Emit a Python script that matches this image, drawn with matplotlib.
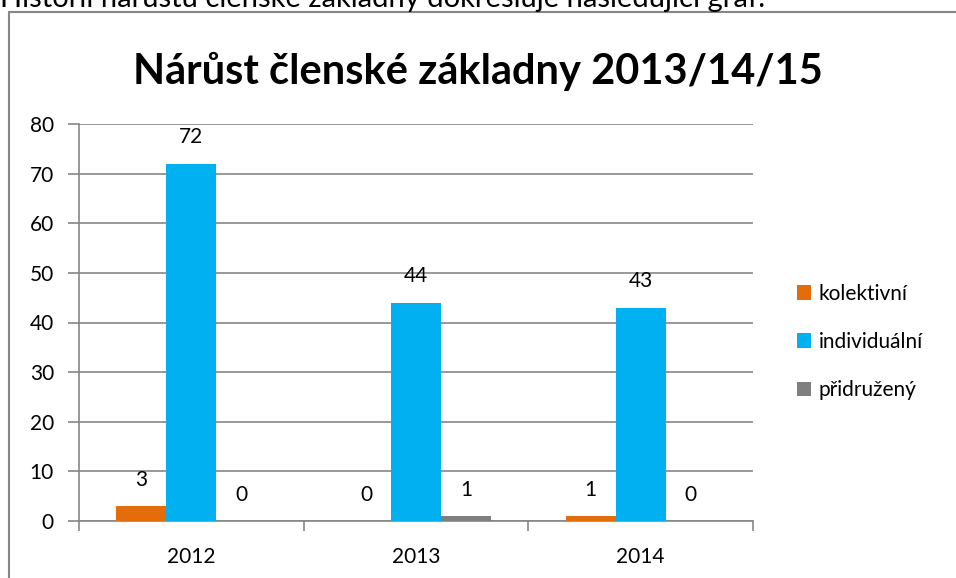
import matplotlib
matplotlib.use("Agg")
import matplotlib.pyplot as plt
from matplotlib.patches import Rectangle
import numpy as np

plt.rcParams['font.family'] = ['Lato', 'DejaVu Sans']

categories = ["2012", "2013", "2014"]
series_names = ["kolektivní", "individuální", "přidružený"]
kolektivni = [3, 0, 1]
individualni = [72, 44, 43]
pridruzeny = [0, 1, 0]
colors = ["#E46C0A", "#00B0F0", "#7F7F7F"]
yticks = [0, 10, 20, 30, 40, 50, 60, 70, 80]

W, H = 956, 578
fig = plt.figure(figsize=(W / 100, H / 100), dpi=100)

def fx(px):
    return px / W

def fy(py):
    return 1 - py / H

# cut-off body text above the chart frame
fig.text(fx(0), fy(7), "Historii nárůstu členské základny dokresluje následující graf:",
         fontsize=21, ha='left', va='baseline', color='black')

# chart frame
fig.patches.append(Rectangle((fx(9), fy(600)), fx(960) - fx(9), fy(12) - fy(600),
                             transform=fig.transFigure, fill=False,
                             edgecolor='#868686', linewidth=1.5))

ax = fig.add_axes([fx(79), fy(521), fx(753) - fx(79), fy(124) - fy(521)])

x = np.arange(len(categories))
bw = 1 / 4.5
all_series = [kolektivni, individualni, pridruzeny]
for i, (vals, name, c) in enumerate(zip(all_series, series_names, colors)):
    pos = x + (i - 1) * bw
    ax.bar(pos, vals, width=bw, color=c, label=name, zorder=3)
    for p, v in zip(pos, vals):
        ax.text(p, v + 5.3, str(v), ha='center', va='center', fontsize=15, color='black')

ax.set_xlim(-0.5, 2.5)
ax.set_ylim(0, 80)
ax.set_yticks(yticks)
ax.set_yticklabels([str(t) for t in yticks], fontsize=15)
ax.yaxis.grid(True, color='#868686', linewidth=1.2, zorder=0)
ax.set_axisbelow(True)

ax.set_xticks([-0.5, 0.5, 1.5, 2.5])
ax.set_xticklabels([])
ax.set_xticks(x, minor=True)
ax.set_xticklabels(categories, minor=True, fontsize=15)
ax.tick_params(axis='x', which='minor', length=0, pad=19)
ax.tick_params(axis='x', which='major', length=7, color='#868686', width=1.2)
ax.tick_params(axis='y', length=8, color='#868686', width=1.2, pad=10)

for s in ['top', 'right']:
    ax.spines[s].set_visible(False)
for s in ['left', 'bottom']:
    ax.spines[s].set_color('#868686')
    ax.spines[s].set_linewidth(1.2)

fig.text(fx(478), fy(71), "Nárůst členské základny 2013/14/15",
         fontsize=30, fontweight='bold', ha='center', va='center')

leg = ax.legend(loc='center left', bbox_to_anchor=(fx(778), fy(342)),
                bbox_transform=fig.transFigure, frameon=False, fontsize=15,
                handlelength=0.7, handleheight=0.7, handletextpad=0.35,
                labelspacing=1.35)

fig.savefig("out.png", dpi=100)
